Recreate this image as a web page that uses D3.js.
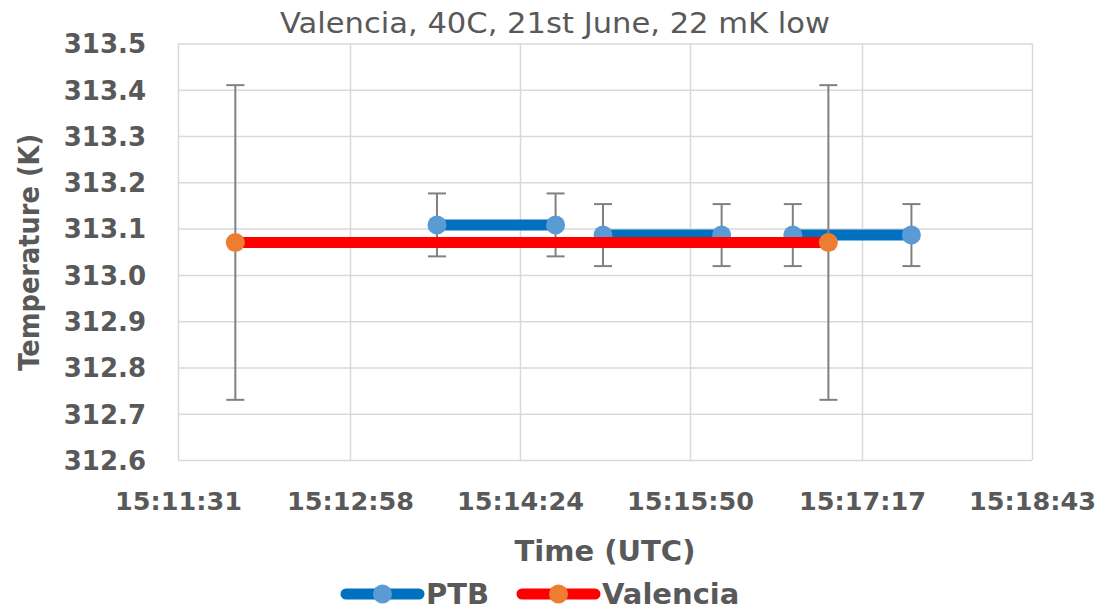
<!DOCTYPE html>
<html>
<head>
<meta charset="utf-8">
<script src="https://cdn.jsdelivr.net/npm/d3@7"></script>
<style>
  html, body { margin: 0; padding: 0; background: #fff; }
  svg { display: block; }
</style>
</head>
<body>
<svg id="chart" width="1106" height="610"></svg>
<script>
// ---- data ----
const chartTitle = "Valencia, 40C, 21st June, 22 mK low";
const xAxisTitle = "Time (UTC)";
const yAxisTitle = "Temperature (K)";
const xTickLabels = ["15:11:31", "15:12:58", "15:14:24", "15:15:50", "15:17:17", "15:18:43"];
const yTickValues = [312.6, 312.7, 312.8, 312.9, 313.0, 313.1, 313.2, 313.3, 313.4, 313.5];

// PTB series (null = gap between measurement pairs)
const ptbTimes  = ["15:13:42", "15:14:42", null, "15:15:06", "15:16:06", null, "15:16:42", "15:17:42"];
const ptbValues = [313.108, 313.108, null, 313.086, 313.086, null, 313.086, 313.086];
const ptbErrors = [0.068, 0.068, null, 0.067, 0.067, null, 0.067, 0.067];

// Valencia series
const valTimes  = ["15:12:00", "15:17:00"];
const valValues = [313.070, 313.070];
const valErrors = [0.34, 0.34];

const seriesNames = ["PTB", "Valencia"];

// ---- layout ----
const svg = d3.select("#chart");
const pLeft = 178, pRight = 1032, pTop = 43.5, pBottom = 460;
const font = "'DejaVu Sans', Verdana, sans-serif";
const textColor = "#595959";
const gridColor = "#D9D9D9";
const errColor = "#808080";

const toSec = s => { const p = s.split(":").map(Number); return p[0] * 3600 + p[1] * 60 + p[2]; };

const x = d3.scaleLinear()
  .domain([toSec(xTickLabels[0]), toSec(xTickLabels[xTickLabels.length - 1])])
  .range([pLeft, pRight]);
const y = d3.scaleLinear()
  .domain([d3.min(yTickValues), d3.max(yTickValues)])
  .range([pBottom, pTop]);

// x axis with grid
const xTickVals = xTickLabels.map(toSec);
const xAxis = d3.axisBottom(x)
  .tickValues(xTickVals)
  .tickSize(-(pBottom - pTop))
  .tickFormat((d, i) => xTickLabels[i]);
const gx = svg.append("g").attr("transform", `translate(0,${pBottom})`).call(xAxis);
gx.select(".domain").remove();
gx.selectAll(".tick line").attr("stroke", gridColor).attr("stroke-width", 1.5);
gx.selectAll(".tick text")
  .attr("y", 50).attr("dy", null)
  .attr("fill", textColor)
  .style("font-family", font).style("font-size", "25.5px").style("font-weight", "bold");

// y axis with grid
const yAxis = d3.axisLeft(y)
  .tickValues(yTickValues)
  .tickSize(-(pRight - pLeft))
  .tickFormat(d3.format(".1f"));
const gy = svg.append("g").attr("transform", `translate(${pLeft},0)`).call(yAxis);
gy.select(".domain").remove();
gy.selectAll(".tick line").attr("stroke", gridColor).attr("stroke-width", 1.5);
gy.selectAll(".tick text")
  .attr("x", -32).attr("dy", "0.36em")
  .attr("fill", textColor)
  .style("font-family", font).style("font-size", "26px").style("font-weight", "bold");

// titles
svg.append("text")
  .attr("x", 555).attr("y", 33)
  .attr("text-anchor", "middle")
  .attr("fill", textColor)
  .attr("textLength", 550).attr("lengthAdjust", "spacingAndGlyphs")
  .style("font-family", font).style("font-size", "27.5px")
  .text(chartTitle);

svg.append("text")
  .attr("x", (pLeft + pRight) / 2).attr("y", 561)
  .attr("text-anchor", "middle")
  .attr("fill", textColor)
  .style("font-family", font).style("font-size", "29px").style("font-weight", "bold")
  .text(xAxisTitle);

svg.append("text")
  .attr("transform", `translate(39,${(pTop + pBottom) / 2 + 0.5}) rotate(-90)`)
  .attr("text-anchor", "middle")
  .attr("fill", textColor)
  .attr("textLength", 237).attr("lengthAdjust", "spacingAndGlyphs")
  .style("font-family", font).style("font-size", "29px").style("font-weight", "bold")
  .text(yAxisTitle);

// series drawing helper
function drawSeries(times, values, errors, lineColor, markerColor) {
  const pts = times.map((t, i) => t === null ? null : { x: toSec(t), v: values[i], e: errors[i] });
  const g = svg.append("g");
  const valid = pts.filter(p => p !== null);
  // error bars
  const eb = g.append("g").attr("stroke", errColor).attr("stroke-width", 2);
  valid.forEach(p => {
    eb.append("line").attr("x1", x(p.x)).attr("x2", x(p.x)).attr("y1", y(p.v + p.e)).attr("y2", y(p.v - p.e));
    eb.append("line").attr("x1", x(p.x) - 9).attr("x2", x(p.x) + 9).attr("y1", y(p.v + p.e)).attr("y2", y(p.v + p.e));
    eb.append("line").attr("x1", x(p.x) - 9).attr("x2", x(p.x) + 9).attr("y1", y(p.v - p.e)).attr("y2", y(p.v - p.e));
  });
  // line
  const line = d3.line().defined(p => p !== null).x(p => x(p.x)).y(p => y(p.v));
  g.append("path").datum(pts)
    .attr("d", line)
    .attr("fill", "none")
    .attr("stroke", lineColor)
    .attr("stroke-width", 11)
    .attr("stroke-linecap", "round");
  // markers
  g.selectAll("circle").data(valid).join("circle")
    .attr("cx", p => x(p.x)).attr("cy", p => y(p.v))
    .attr("r", 9.5)
    .attr("fill", markerColor);
}

drawSeries(ptbTimes, ptbValues, ptbErrors, "#0070C0", "#5B9BD5");
drawSeries(valTimes, valValues, valErrors, "#FF0000", "#ED7D31");

// legend
const legendItems = [
  { name: seriesNames[0], line: "#0070C0", marker: "#5B9BD5", x0: 342 },
  { name: seriesNames[1], line: "#FF0000", marker: "#ED7D31", x0: 518 }
];
const lg = svg.append("g");
legendItems.forEach(it => {
  lg.append("line")
    .attr("x1", it.x0 + 4).attr("x2", it.x0 + 77)
    .attr("y1", 594).attr("y2", 594)
    .attr("stroke", it.line).attr("stroke-width", 11).attr("stroke-linecap", "round");
  lg.append("circle").attr("cx", it.x0 + 40.5).attr("cy", 594).attr("r", 9.5).attr("fill", it.marker);
  lg.append("text")
    .attr("x", it.x0 + 84).attr("y", 604)
    .attr("fill", textColor)
    .style("font-family", font).style("font-size", "29px").style("font-weight", "bold")
    .text(it.name);
});
</script>
</body>
</html>
